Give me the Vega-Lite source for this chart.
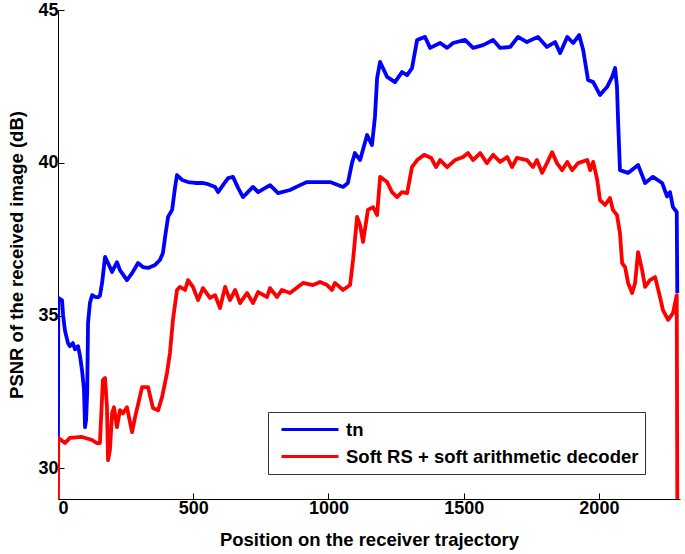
{
  "$schema": "https://vega.github.io/schema/vega-lite/v6.json",
  "width": 622,
  "height": 489,
  "autosize": {"type": "none"},
  "padding": {"left": 58, "top": 10, "right": 5, "bottom": 55},
  "background": "white",
  "data": {"values": [
    {"pos": 0, "psnr": 31.0, "series": "tn"},
    {"pos": 1, "psnr": 35.58, "series": "tn"},
    {"pos": 15, "psnr": 35.5, "series": "tn"},
    {"pos": 19, "psnr": 35.0, "series": "tn"},
    {"pos": 26, "psnr": 34.5, "series": "tn"},
    {"pos": 37, "psnr": 34.1, "series": "tn"},
    {"pos": 44, "psnr": 34.0, "series": "tn"},
    {"pos": 55, "psnr": 34.1, "series": "tn"},
    {"pos": 63, "psnr": 33.9, "series": "tn"},
    {"pos": 74, "psnr": 34.0, "series": "tn"},
    {"pos": 81, "psnr": 33.7, "series": "tn"},
    {"pos": 89, "psnr": 33.2, "series": "tn"},
    {"pos": 96, "psnr": 32.6, "series": "tn"},
    {"pos": 100, "psnr": 31.35, "series": "tn"},
    {"pos": 104, "psnr": 31.6, "series": "tn"},
    {"pos": 108, "psnr": 32.5, "series": "tn"},
    {"pos": 111, "psnr": 34.76, "series": "tn"},
    {"pos": 118, "psnr": 35.41, "series": "tn"},
    {"pos": 126, "psnr": 35.67, "series": "tn"},
    {"pos": 137, "psnr": 35.61, "series": "tn"},
    {"pos": 148, "psnr": 35.6, "series": "tn"},
    {"pos": 155, "psnr": 35.65, "series": "tn"},
    {"pos": 163, "psnr": 36.07, "series": "tn"},
    {"pos": 174, "psnr": 36.92, "series": "tn"},
    {"pos": 185, "psnr": 36.72, "series": "tn"},
    {"pos": 200, "psnr": 36.43, "series": "tn"},
    {"pos": 218, "psnr": 36.75, "series": "tn"},
    {"pos": 229, "psnr": 36.49, "series": "tn"},
    {"pos": 255, "psnr": 36.16, "series": "tn"},
    {"pos": 274, "psnr": 36.39, "series": "tn"},
    {"pos": 296, "psnr": 36.72, "series": "tn"},
    {"pos": 314, "psnr": 36.59, "series": "tn"},
    {"pos": 333, "psnr": 36.56, "series": "tn"},
    {"pos": 359, "psnr": 36.66, "series": "tn"},
    {"pos": 377, "psnr": 36.82, "series": "tn"},
    {"pos": 388, "psnr": 37.05, "series": "tn"},
    {"pos": 396, "psnr": 37.57, "series": "tn"},
    {"pos": 407, "psnr": 38.23, "series": "tn"},
    {"pos": 422, "psnr": 38.46, "series": "tn"},
    {"pos": 433, "psnr": 39.21, "series": "tn"},
    {"pos": 440, "psnr": 39.6, "series": "tn"},
    {"pos": 459, "psnr": 39.44, "series": "tn"},
    {"pos": 481, "psnr": 39.37, "series": "tn"},
    {"pos": 507, "psnr": 39.34, "series": "tn"},
    {"pos": 533, "psnr": 39.34, "series": "tn"},
    {"pos": 555, "psnr": 39.3, "series": "tn"},
    {"pos": 581, "psnr": 39.21, "series": "tn"},
    {"pos": 592, "psnr": 39.04, "series": "tn"},
    {"pos": 610, "psnr": 39.27, "series": "tn"},
    {"pos": 629, "psnr": 39.5, "series": "tn"},
    {"pos": 647, "psnr": 39.54, "series": "tn"},
    {"pos": 666, "psnr": 39.18, "series": "tn"},
    {"pos": 684, "psnr": 38.88, "series": "tn"},
    {"pos": 721, "psnr": 39.21, "series": "tn"},
    {"pos": 740, "psnr": 39.04, "series": "tn"},
    {"pos": 784, "psnr": 39.27, "series": "tn"},
    {"pos": 814, "psnr": 39.01, "series": "tn"},
    {"pos": 858, "psnr": 39.11, "series": "tn"},
    {"pos": 895, "psnr": 39.27, "series": "tn"},
    {"pos": 921, "psnr": 39.37, "series": "tn"},
    {"pos": 1006, "psnr": 39.37, "series": "tn"},
    {"pos": 1054, "psnr": 39.21, "series": "tn"},
    {"pos": 1072, "psnr": 39.34, "series": "tn"},
    {"pos": 1087, "psnr": 39.99, "series": "tn"},
    {"pos": 1098, "psnr": 40.32, "series": "tn"},
    {"pos": 1117, "psnr": 40.09, "series": "tn"},
    {"pos": 1143, "psnr": 40.91, "series": "tn"},
    {"pos": 1161, "psnr": 40.58, "series": "tn"},
    {"pos": 1172, "psnr": 41.5, "series": "tn"},
    {"pos": 1180, "psnr": 42.77, "series": "tn"},
    {"pos": 1191, "psnr": 43.3, "series": "tn"},
    {"pos": 1217, "psnr": 42.81, "series": "tn"},
    {"pos": 1246, "psnr": 42.64, "series": "tn"},
    {"pos": 1272, "psnr": 42.97, "series": "tn"},
    {"pos": 1291, "psnr": 42.87, "series": "tn"},
    {"pos": 1309, "psnr": 43.1, "series": "tn"},
    {"pos": 1328, "psnr": 44.02, "series": "tn"},
    {"pos": 1357, "psnr": 44.12, "series": "tn"},
    {"pos": 1376, "psnr": 43.76, "series": "tn"},
    {"pos": 1413, "psnr": 43.92, "series": "tn"},
    {"pos": 1439, "psnr": 43.76, "series": "tn"},
    {"pos": 1461, "psnr": 43.92, "series": "tn"},
    {"pos": 1505, "psnr": 44.02, "series": "tn"},
    {"pos": 1535, "psnr": 43.76, "series": "tn"},
    {"pos": 1572, "psnr": 43.85, "series": "tn"},
    {"pos": 1609, "psnr": 44.02, "series": "tn"},
    {"pos": 1635, "psnr": 43.76, "series": "tn"},
    {"pos": 1672, "psnr": 43.79, "series": "tn"},
    {"pos": 1701, "psnr": 44.12, "series": "tn"},
    {"pos": 1734, "psnr": 43.95, "series": "tn"},
    {"pos": 1775, "psnr": 44.12, "series": "tn"},
    {"pos": 1808, "psnr": 43.79, "series": "tn"},
    {"pos": 1838, "psnr": 43.95, "series": "tn"},
    {"pos": 1857, "psnr": 43.59, "series": "tn"},
    {"pos": 1883, "psnr": 44.12, "series": "tn"},
    {"pos": 1905, "psnr": 43.92, "series": "tn"},
    {"pos": 1927, "psnr": 44.18, "series": "tn"},
    {"pos": 1942, "psnr": 43.69, "series": "tn"},
    {"pos": 1960, "psnr": 42.71, "series": "tn"},
    {"pos": 1979, "psnr": 42.64, "series": "tn"},
    {"pos": 2004, "psnr": 42.22, "series": "tn"},
    {"pos": 2030, "psnr": 42.48, "series": "tn"},
    {"pos": 2049, "psnr": 42.81, "series": "tn"},
    {"pos": 2060, "psnr": 43.1, "series": "tn"},
    {"pos": 2067, "psnr": 42.48, "series": "tn"},
    {"pos": 2071, "psnr": 41.4, "series": "tn"},
    {"pos": 2078, "psnr": 39.76, "series": "tn"},
    {"pos": 2108, "psnr": 39.67, "series": "tn"},
    {"pos": 2145, "psnr": 39.93, "series": "tn"},
    {"pos": 2171, "psnr": 39.34, "series": "tn"},
    {"pos": 2200, "psnr": 39.54, "series": "tn"},
    {"pos": 2234, "psnr": 39.34, "series": "tn"},
    {"pos": 2252, "psnr": 38.9, "series": "tn"},
    {"pos": 2263, "psnr": 39.04, "series": "tn"},
    {"pos": 2274, "psnr": 38.55, "series": "tn"},
    {"pos": 2288, "psnr": 38.39, "series": "tn"},
    {"pos": 2290, "psnr": 35.74, "series": "tn"},
    {"pos": 0, "psnr": 29.0, "series": "Soft RS + soft arithmetic decoder"},
    {"pos": 1, "psnr": 31.0, "series": "Soft RS + soft arithmetic decoder"},
    {"pos": 26, "psnr": 30.83, "series": "Soft RS + soft arithmetic decoder"},
    {"pos": 44, "psnr": 31.0, "series": "Soft RS + soft arithmetic decoder"},
    {"pos": 89, "psnr": 31.03, "series": "Soft RS + soft arithmetic decoder"},
    {"pos": 126, "psnr": 30.93, "series": "Soft RS + soft arithmetic decoder"},
    {"pos": 144, "psnr": 30.83, "series": "Soft RS + soft arithmetic decoder"},
    {"pos": 155, "psnr": 30.83, "series": "Soft RS + soft arithmetic decoder"},
    {"pos": 166, "psnr": 32.89, "series": "Soft RS + soft arithmetic decoder"},
    {"pos": 174, "psnr": 32.96, "series": "Soft RS + soft arithmetic decoder"},
    {"pos": 181, "psnr": 32.01, "series": "Soft RS + soft arithmetic decoder"},
    {"pos": 185, "psnr": 30.27, "series": "Soft RS + soft arithmetic decoder"},
    {"pos": 192, "psnr": 30.6, "series": "Soft RS + soft arithmetic decoder"},
    {"pos": 200, "psnr": 31.81, "series": "Soft RS + soft arithmetic decoder"},
    {"pos": 207, "psnr": 32.0, "series": "Soft RS + soft arithmetic decoder"},
    {"pos": 218, "psnr": 31.35, "series": "Soft RS + soft arithmetic decoder"},
    {"pos": 229, "psnr": 31.91, "series": "Soft RS + soft arithmetic decoder"},
    {"pos": 240, "psnr": 31.8, "series": "Soft RS + soft arithmetic decoder"},
    {"pos": 255, "psnr": 32.0, "series": "Soft RS + soft arithmetic decoder"},
    {"pos": 274, "psnr": 31.19, "series": "Soft RS + soft arithmetic decoder"},
    {"pos": 285, "psnr": 31.68, "series": "Soft RS + soft arithmetic decoder"},
    {"pos": 311, "psnr": 32.66, "series": "Soft RS + soft arithmetic decoder"},
    {"pos": 333, "psnr": 32.66, "series": "Soft RS + soft arithmetic decoder"},
    {"pos": 351, "psnr": 31.98, "series": "Soft RS + soft arithmetic decoder"},
    {"pos": 370, "psnr": 31.9, "series": "Soft RS + soft arithmetic decoder"},
    {"pos": 385, "psnr": 32.34, "series": "Soft RS + soft arithmetic decoder"},
    {"pos": 403, "psnr": 33.12, "series": "Soft RS + soft arithmetic decoder"},
    {"pos": 414, "psnr": 33.78, "series": "Soft RS + soft arithmetic decoder"},
    {"pos": 425, "psnr": 34.86, "series": "Soft RS + soft arithmetic decoder"},
    {"pos": 440, "psnr": 35.84, "series": "Soft RS + soft arithmetic decoder"},
    {"pos": 451, "psnr": 35.94, "series": "Soft RS + soft arithmetic decoder"},
    {"pos": 470, "psnr": 35.84, "series": "Soft RS + soft arithmetic decoder"},
    {"pos": 481, "psnr": 36.16, "series": "Soft RS + soft arithmetic decoder"},
    {"pos": 499, "psnr": 35.94, "series": "Soft RS + soft arithmetic decoder"},
    {"pos": 518, "psnr": 35.51, "series": "Soft RS + soft arithmetic decoder"},
    {"pos": 536, "psnr": 35.9, "series": "Soft RS + soft arithmetic decoder"},
    {"pos": 562, "psnr": 35.58, "series": "Soft RS + soft arithmetic decoder"},
    {"pos": 581, "psnr": 35.67, "series": "Soft RS + soft arithmetic decoder"},
    {"pos": 599, "psnr": 35.25, "series": "Soft RS + soft arithmetic decoder"},
    {"pos": 618, "psnr": 35.94, "series": "Soft RS + soft arithmetic decoder"},
    {"pos": 636, "psnr": 35.51, "series": "Soft RS + soft arithmetic decoder"},
    {"pos": 655, "psnr": 35.84, "series": "Soft RS + soft arithmetic decoder"},
    {"pos": 673, "psnr": 35.41, "series": "Soft RS + soft arithmetic decoder"},
    {"pos": 699, "psnr": 35.74, "series": "Soft RS + soft arithmetic decoder"},
    {"pos": 721, "psnr": 35.41, "series": "Soft RS + soft arithmetic decoder"},
    {"pos": 740, "psnr": 35.77, "series": "Soft RS + soft arithmetic decoder"},
    {"pos": 773, "psnr": 35.61, "series": "Soft RS + soft arithmetic decoder"},
    {"pos": 784, "psnr": 35.9, "series": "Soft RS + soft arithmetic decoder"},
    {"pos": 810, "psnr": 35.61, "series": "Soft RS + soft arithmetic decoder"},
    {"pos": 828, "psnr": 35.84, "series": "Soft RS + soft arithmetic decoder"},
    {"pos": 858, "psnr": 35.74, "series": "Soft RS + soft arithmetic decoder"},
    {"pos": 906, "psnr": 36.07, "series": "Soft RS + soft arithmetic decoder"},
    {"pos": 943, "psnr": 36.0, "series": "Soft RS + soft arithmetic decoder"},
    {"pos": 969, "psnr": 36.1, "series": "Soft RS + soft arithmetic decoder"},
    {"pos": 995, "psnr": 36.0, "series": "Soft RS + soft arithmetic decoder"},
    {"pos": 1013, "psnr": 35.84, "series": "Soft RS + soft arithmetic decoder"},
    {"pos": 1024, "psnr": 36.07, "series": "Soft RS + soft arithmetic decoder"},
    {"pos": 1054, "psnr": 35.84, "series": "Soft RS + soft arithmetic decoder"},
    {"pos": 1080, "psnr": 36.0, "series": "Soft RS + soft arithmetic decoder"},
    {"pos": 1091, "psnr": 36.82, "series": "Soft RS + soft arithmetic decoder"},
    {"pos": 1106, "psnr": 38.23, "series": "Soft RS + soft arithmetic decoder"},
    {"pos": 1117, "psnr": 37.96, "series": "Soft RS + soft arithmetic decoder"},
    {"pos": 1128, "psnr": 37.41, "series": "Soft RS + soft arithmetic decoder"},
    {"pos": 1146, "psnr": 38.46, "series": "Soft RS + soft arithmetic decoder"},
    {"pos": 1165, "psnr": 38.55, "series": "Soft RS + soft arithmetic decoder"},
    {"pos": 1180, "psnr": 38.29, "series": "Soft RS + soft arithmetic decoder"},
    {"pos": 1191, "psnr": 39.54, "series": "Soft RS + soft arithmetic decoder"},
    {"pos": 1217, "psnr": 39.37, "series": "Soft RS + soft arithmetic decoder"},
    {"pos": 1235, "psnr": 39.04, "series": "Soft RS + soft arithmetic decoder"},
    {"pos": 1254, "psnr": 38.88, "series": "Soft RS + soft arithmetic decoder"},
    {"pos": 1272, "psnr": 39.04, "series": "Soft RS + soft arithmetic decoder"},
    {"pos": 1291, "psnr": 39.01, "series": "Soft RS + soft arithmetic decoder"},
    {"pos": 1309, "psnr": 39.86, "series": "Soft RS + soft arithmetic decoder"},
    {"pos": 1328, "psnr": 40.09, "series": "Soft RS + soft arithmetic decoder"},
    {"pos": 1354, "psnr": 40.26, "series": "Soft RS + soft arithmetic decoder"},
    {"pos": 1380, "psnr": 40.16, "series": "Soft RS + soft arithmetic decoder"},
    {"pos": 1398, "psnr": 39.86, "series": "Soft RS + soft arithmetic decoder"},
    {"pos": 1413, "psnr": 40.09, "series": "Soft RS + soft arithmetic decoder"},
    {"pos": 1439, "psnr": 39.86, "series": "Soft RS + soft arithmetic decoder"},
    {"pos": 1468, "psnr": 40.09, "series": "Soft RS + soft arithmetic decoder"},
    {"pos": 1498, "psnr": 40.19, "series": "Soft RS + soft arithmetic decoder"},
    {"pos": 1516, "psnr": 40.32, "series": "Soft RS + soft arithmetic decoder"},
    {"pos": 1535, "psnr": 40.09, "series": "Soft RS + soft arithmetic decoder"},
    {"pos": 1561, "psnr": 40.32, "series": "Soft RS + soft arithmetic decoder"},
    {"pos": 1586, "psnr": 39.99, "series": "Soft RS + soft arithmetic decoder"},
    {"pos": 1609, "psnr": 40.26, "series": "Soft RS + soft arithmetic decoder"},
    {"pos": 1635, "psnr": 40.03, "series": "Soft RS + soft arithmetic decoder"},
    {"pos": 1661, "psnr": 40.19, "series": "Soft RS + soft arithmetic decoder"},
    {"pos": 1679, "psnr": 39.86, "series": "Soft RS + soft arithmetic decoder"},
    {"pos": 1697, "psnr": 40.16, "series": "Soft RS + soft arithmetic decoder"},
    {"pos": 1734, "psnr": 40.09, "series": "Soft RS + soft arithmetic decoder"},
    {"pos": 1756, "psnr": 39.86, "series": "Soft RS + soft arithmetic decoder"},
    {"pos": 1771, "psnr": 40.09, "series": "Soft RS + soft arithmetic decoder"},
    {"pos": 1790, "psnr": 39.67, "series": "Soft RS + soft arithmetic decoder"},
    {"pos": 1808, "psnr": 39.99, "series": "Soft RS + soft arithmetic decoder"},
    {"pos": 1827, "psnr": 40.35, "series": "Soft RS + soft arithmetic decoder"},
    {"pos": 1845, "psnr": 39.99, "series": "Soft RS + soft arithmetic decoder"},
    {"pos": 1864, "psnr": 39.76, "series": "Soft RS + soft arithmetic decoder"},
    {"pos": 1883, "psnr": 40.03, "series": "Soft RS + soft arithmetic decoder"},
    {"pos": 1901, "psnr": 39.76, "series": "Soft RS + soft arithmetic decoder"},
    {"pos": 1923, "psnr": 39.99, "series": "Soft RS + soft arithmetic decoder"},
    {"pos": 1957, "psnr": 40.09, "series": "Soft RS + soft arithmetic decoder"},
    {"pos": 1968, "psnr": 39.76, "series": "Soft RS + soft arithmetic decoder"},
    {"pos": 1979, "psnr": 40.03, "series": "Soft RS + soft arithmetic decoder"},
    {"pos": 1994, "psnr": 39.44, "series": "Soft RS + soft arithmetic decoder"},
    {"pos": 2004, "psnr": 38.78, "series": "Soft RS + soft arithmetic decoder"},
    {"pos": 2023, "psnr": 38.62, "series": "Soft RS + soft arithmetic decoder"},
    {"pos": 2041, "psnr": 38.85, "series": "Soft RS + soft arithmetic decoder"},
    {"pos": 2052, "psnr": 38.46, "series": "Soft RS + soft arithmetic decoder"},
    {"pos": 2067, "psnr": 38.29, "series": "Soft RS + soft arithmetic decoder"},
    {"pos": 2078, "psnr": 37.7, "series": "Soft RS + soft arithmetic decoder"},
    {"pos": 2086, "psnr": 36.72, "series": "Soft RS + soft arithmetic decoder"},
    {"pos": 2097, "psnr": 36.59, "series": "Soft RS + soft arithmetic decoder"},
    {"pos": 2108, "psnr": 36.07, "series": "Soft RS + soft arithmetic decoder"},
    {"pos": 2123, "psnr": 35.74, "series": "Soft RS + soft arithmetic decoder"},
    {"pos": 2134, "psnr": 36.07, "series": "Soft RS + soft arithmetic decoder"},
    {"pos": 2145, "psnr": 37.08, "series": "Soft RS + soft arithmetic decoder"},
    {"pos": 2160, "psnr": 36.49, "series": "Soft RS + soft arithmetic decoder"},
    {"pos": 2171, "psnr": 35.94, "series": "Soft RS + soft arithmetic decoder"},
    {"pos": 2189, "psnr": 36.16, "series": "Soft RS + soft arithmetic decoder"},
    {"pos": 2208, "psnr": 36.26, "series": "Soft RS + soft arithmetic decoder"},
    {"pos": 2226, "psnr": 35.61, "series": "Soft RS + soft arithmetic decoder"},
    {"pos": 2237, "psnr": 35.18, "series": "Soft RS + soft arithmetic decoder"},
    {"pos": 2256, "psnr": 34.86, "series": "Soft RS + soft arithmetic decoder"},
    {"pos": 2274, "psnr": 35.08, "series": "Soft RS + soft arithmetic decoder"},
    {"pos": 2288, "psnr": 35.67, "series": "Soft RS + soft arithmetic decoder"},
    {"pos": 2290, "psnr": 29.0, "series": "Soft RS + soft arithmetic decoder"}
  ]},
  "mark": {"type": "line", "strokeWidth": 3.8, "strokeJoin": "round", "clip": true},
  "encoding": {
    "x": {
      "field": "pos", "type": "quantitative",
      "scale": {"domain": [0, 2300], "nice": false, "zero": false},
      "axis": {"values": [0, 500, 1000, 1500, 2000], "format": "d", "title": "Position on the receiver trajectory", "labelPadding": 6, "titlePadding": 13}
    },
    "y": {
      "field": "psnr", "type": "quantitative",
      "scale": {"domain": [29, 45], "nice": false, "zero": false},
      "axis": {"values": [30, 35, 40, 45], "format": "d", "title": "PSNR of the received image (dB)", "labelPadding": 6, "titlePadding": 11}
    },
    "color": {
      "field": "series", "type": "nominal",
      "scale": {"domain": ["tn", "Soft RS + soft arithmetic decoder"], "range": ["#0000FF", "#FF0000"]},
      "legend": {
        "title": null, "orient": "none", "legendX": 210, "legendY": 402,
        "symbolType": "stroke", "symbolSize": 3249, "symbolStrokeWidth": 3,
        "clipHeight": 23, "rowPadding": 4, "padding": 6, "symbolOffset": 6,
        "labelOffset": 6, "strokeColor": "#333333", "fillColor": "white",
        "labelFont": "Liberation Sans", "labelFontWeight": "bold", "labelFontSize": 18.5, "labelColor": "#000", "labelLimit": 500
      }
    }
  },
  "config": {
    "view": {"stroke": null},
    "axis": {
      "grid": false, "domainColor": "#000", "domainWidth": 1, "tickColor": "#000", "tickSize": -6, "tickWidth": 1,
      "labelColor": "#000", "titleColor": "#000",
      "labelFont": "Liberation Sans", "titleFont": "Liberation Sans",
      "labelFontWeight": "bold", "titleFontWeight": "bold",
      "labelFontSize": 18, "titleFontSize": 18.5
    }
  }
}
